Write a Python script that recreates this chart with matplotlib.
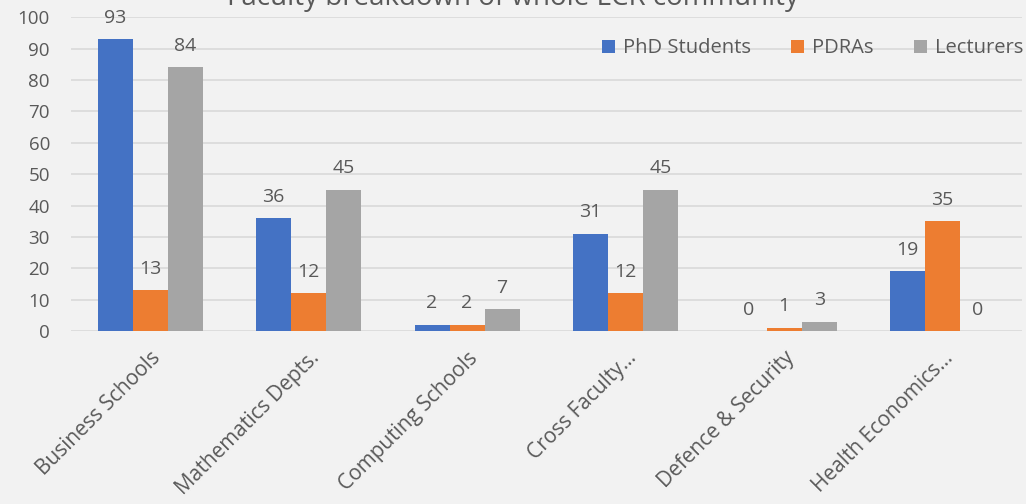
import matplotlib.pyplot as plt
import numpy as np

plt.rcParams['font.family'] = ['Open Sans', 'DejaVu Sans']

# Data
categories = ['Business Schools', 'Mathematics Depts.', 'Computing Schools',
              'Cross Faculty\u2026', 'Defence & Security', 'Health Economics\u2026']
phd = [93, 36, 2, 31, 0, 19]
pdras = [13, 12, 2, 12, 1, 35]
lecturers = [84, 45, 7, 45, 3, 0]

series = [('PhD Students', phd, '#4472C4'),
          ('PDRAs', pdras, '#ED7D31'),
          ('Lecturers', lecturers, '#A5A5A5')]

bg = '#F2F2F2'
txt = '#595959'

fig = plt.figure(figsize=(10.26, 5.04), dpi=100, facecolor=bg)
ax = fig.add_axes([0.069, 0.343, 0.927, 0.623], facecolor=bg)

x = np.arange(len(categories))
w = 0.221
for i, (name, vals, col) in enumerate(series):
    pos = x + (i - 1) * w
    ax.bar(pos, vals, width=w, color=col, label=name, zorder=3)
    for p, v in zip(pos, vals):
        ax.text(p, v + 4.0, str(v), ha='center', va='bottom',
                fontsize=14, color=txt)

ax.set_xlim(-0.5, len(categories) - 0.5)
ax.set_ylim(0, 100)
ax.set_yticks(range(0, 101, 10))
ax.yaxis.grid(True, color='#D9D9D9', linewidth=1.2, zorder=0)
ax.set_xticks(x)
ax.set_xticklabels(categories, rotation=45, ha='right', rotation_mode='anchor',
                   fontsize=15, color=txt)
ax.tick_params(axis='both', length=0, labelcolor=txt)
ax.tick_params(axis='y', labelsize=13.5, pad=15)
ax.tick_params(axis='x', pad=12)
for s in ax.spines.values():
    s.set_visible(False)

ax.legend(loc='upper right', bbox_to_anchor=(1.021, 0.99), ncol=3, frameon=False,
          fontsize=14.5, labelcolor=txt, handlelength=0.65, handleheight=0.65,
          handletextpad=0.4, columnspacing=2.0)

fig.text(0.5, 1 - 5 / 504, 'Faculty breakdown of whole LCR community',
         ha='center', va='baseline', fontsize=20, color=txt)

fig.savefig('out.png', dpi=100, facecolor=bg)
